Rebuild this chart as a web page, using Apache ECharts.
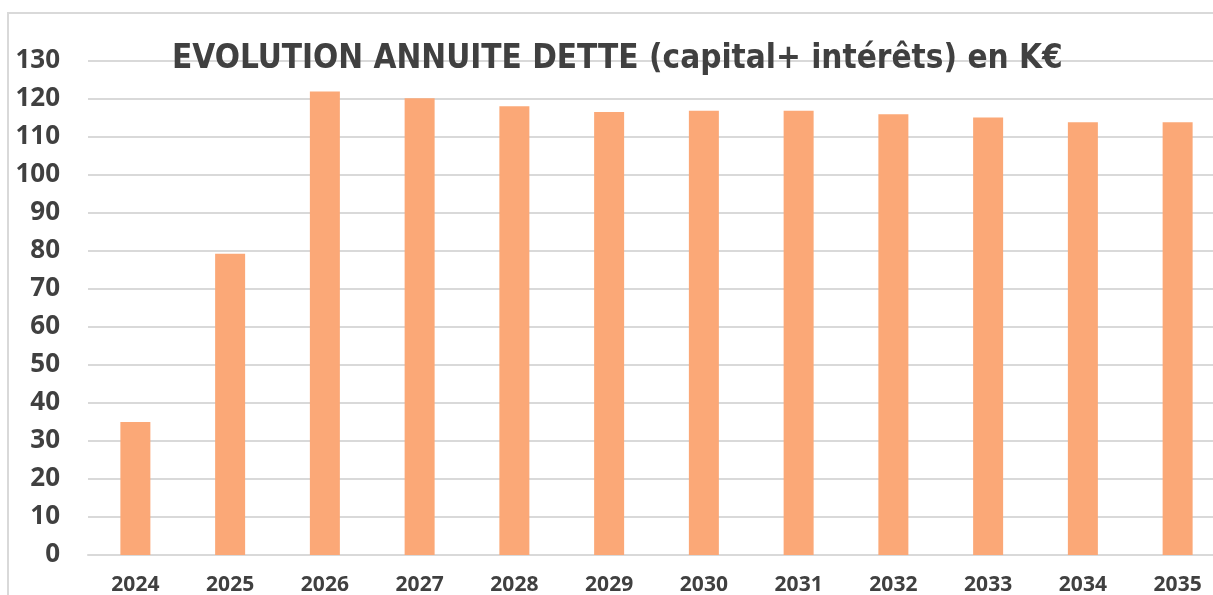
<!DOCTYPE html>
<html>
<head>
<meta charset="utf-8">
<style>
  html, body { margin: 0; padding: 0; background: #fff; }
  #chart { width: 1213px; height: 595px; }
</style>
<script src="https://cdn.jsdelivr.net/npm/echarts@6/dist/echarts.min.js"></script>
</head>
<body>
<div id="chart"></div>
<script>
var years = ['2024', '2025', '2026', '2027', '2028', '2029', '2030', '2031', '2032', '2033', '2034', '2035'];
var annuite = [35, 79.3, 122, 120.2, 118.1, 116.6, 116.9, 116.9, 116, 115.1, 113.9, 113.9];

var myChart = echarts.init(document.getElementById('chart'));

var option = {
  animation: false,
  title: {
    text: 'EVOLUTION ANNUITE DETTE (capital+ intérêts) en K€',
    left: 167,
    top: 38,
    textStyle: {
      fontFamily: '"DejaVu Sans Condensed", sans-serif',
      fontWeight: 'bold',
      fontSize: 33,
      color: '#404040'
    }
  },
  graphic: [{
    type: 'polyline',
    shape: { points: [[8, 595], [8, 13], [1213, 13]] },
    style: { stroke: '#d9d9d9', lineWidth: 2, fill: null },
    z: -1
  }],
  // plot runs past the right edge, as in the cropped original
  grid: { left: 88, width: 1137, top: 61, bottom: 40, outerBoundsMode: 'none', containLabel: false },
  xAxis: {
    type: 'category',
    data: years,
    axisLine: { lineStyle: { color: '#d9d9d9', width: 2 } },
    axisTick: { show: false },
    axisLabel: {
      margin: 20,
      fontFamily: '"Open Sans", sans-serif',
      fontWeight: 'bold',
      fontSize: 21,
      color: '#404040'
    }
  },
  yAxis: {
    type: 'value',
    min: 0,
    max: 130,
    interval: 10,
    axisLine: { show: false },
    axisTick: { show: false },
    splitLine: { lineStyle: { color: '#d9d9d9', width: 2 } },
    axisLabel: {
      margin: 28,
      fontFamily: '"Open Sans", sans-serif',
      fontWeight: 'bold',
      fontSize: 26,
      color: '#404040'
    }
  },
  series: [{
    type: 'bar',
    data: annuite,
    barWidth: 30,
    itemStyle: { color: '#FBA877' }
  }]
};

myChart.setOption(option);
</script>
</body>
</html>
